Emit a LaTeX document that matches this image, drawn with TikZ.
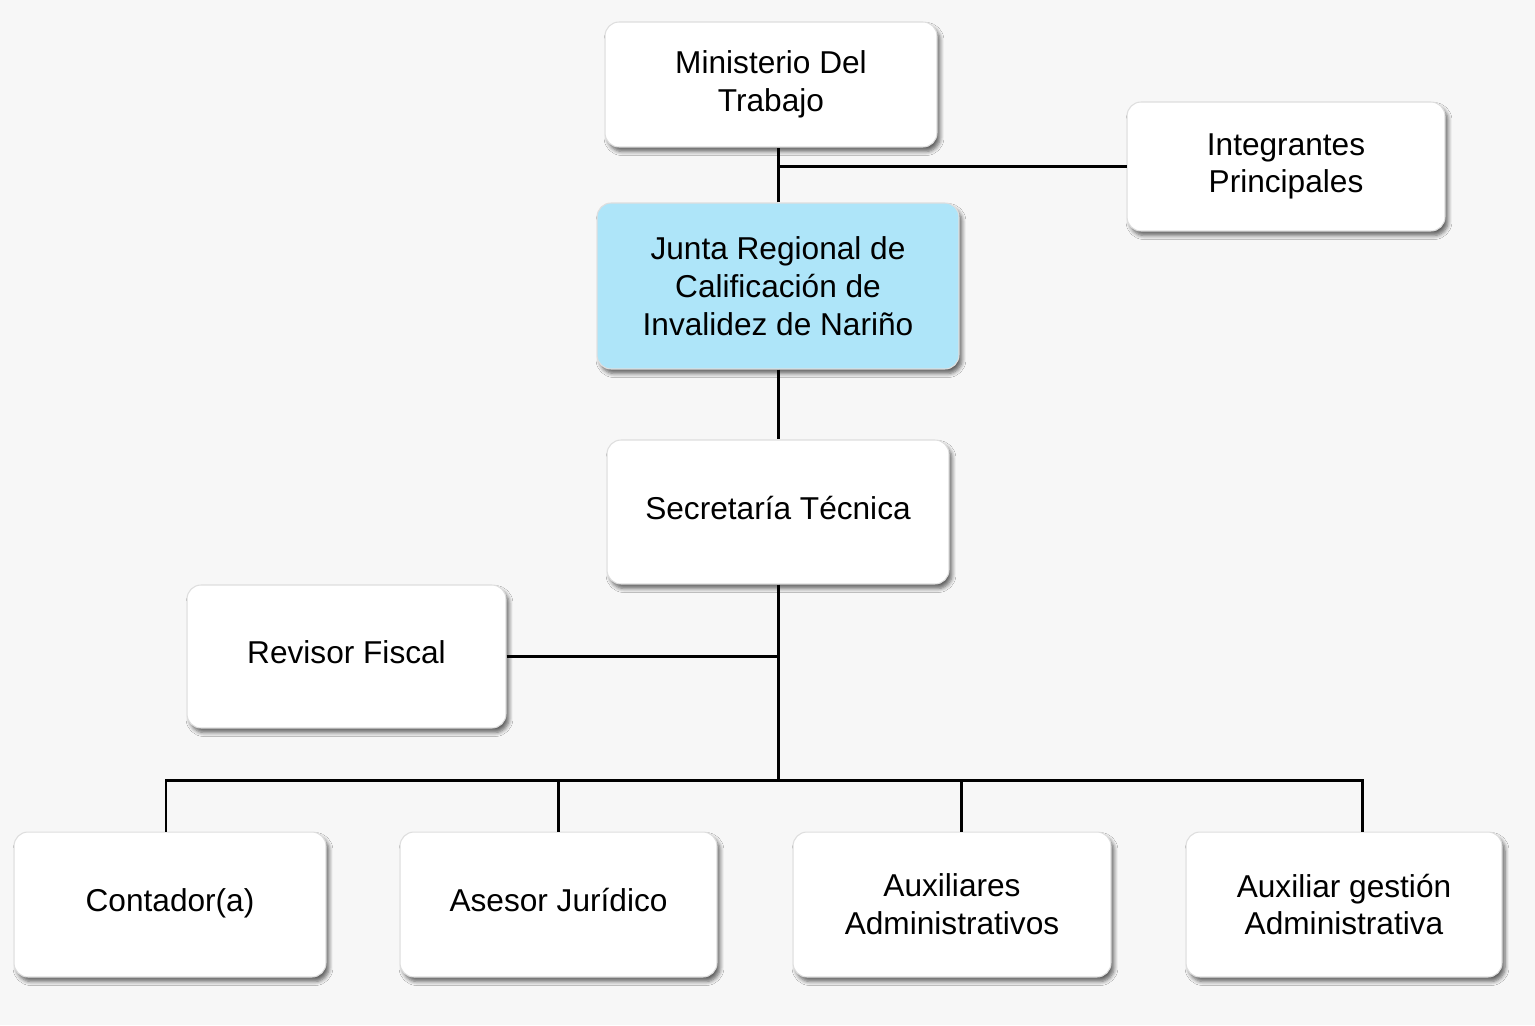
\documentclass[tikz,border=0pt]{standalone}
\usepackage{fontspec}
\setmainfont{Liberation Sans}
\usetikzlibrary{shadows.blur}
\definecolor{bg}{HTML}{F7F7F7}
\definecolor{junta}{HTML}{AEE5F9}
\begin{document}
\begin{tikzpicture}[x=0.02cm,y=-0.02cm,
 box/.style={draw=black!13, line width=0.6pt, fill=white, rounded corners=0.28cm,
   align=center, font=\fontsize{18}{21.5}\selectfont, inner sep=0pt,
   blur shadow={shadow xshift=0.06cm, shadow yshift=-0.09cm, shadow blur steps=6,
   shadow blur radius=0.08cm, shadow opacity=60}},
 single/.style={text height=13pt, text depth=5pt},
 conn/.style={line width=1.7pt, black}]
\fill[bg] (0,0) rectangle (1535,1025);
\useasboundingbox (0,0) rectangle (1535,1025);
\node[box, minimum width=6.64cm, minimum height=2.5cm] (min) at (771,84.5) {Ministerio Del\\Trabajo};
\node[box, minimum width=6.36cm, minimum height=2.58cm] (int) at (1286,166.5) {Integrantes\\Principales};
\node[box, fill=junta, minimum width=7.24cm, minimum height=3.32cm] (junta) at (778,286) {Junta Regional de\\Calificación de\\Invalidez de Nariño};
\node[box, single, minimum width=6.84cm, minimum height=2.88cm] (sec) at (778,512) {Secretaría Técnica};
\node[box, single, minimum width=6.38cm, minimum height=2.86cm] (rev) at (346.5,656.5) {Revisor Fiscal};
\node[box, single, minimum width=6.24cm, minimum height=2.9cm] (c1) at (170,904.5) {Contador(a)};
\node[box, single, minimum width=6.34cm, minimum height=2.9cm] (c2) at (558.5,904.5) {Asesor Jurídico};
\node[box, minimum width=6.36cm, minimum height=2.9cm] (c3) at (952,904.5) {Auxiliares\\Administrativos};
\node[box, minimum width=6.32cm, minimum height=2.9cm] (c4) at (1344,904.5) {Auxiliar gestión\\Administrativa};
\coordinate (bus) at (778,780);
\coordinate (d1) at ([xshift=-0.08cm]c1.north);
\coordinate (d3) at ([xshift=0.18cm]c3.north);
\coordinate (d4) at ([xshift=0.36cm]c4.north);
\draw[conn] (junta.north) -- (junta.north |- min.south);
\draw[conn] (junta.north |- int.west) -- (int.west);
\draw[conn] (junta.south) -- (sec.north);
\draw[conn] (sec.south) -- (bus);
\draw[conn] (rev.east) -- (rev.east -| sec.south);
\draw[conn] (d1) |- (d4 |- bus) -- (d4);
\draw[conn] (c2.north) -- (c2.north |- bus);
\draw[conn] (d3) -- (d3 |- bus);
\end{tikzpicture}
\end{document}
